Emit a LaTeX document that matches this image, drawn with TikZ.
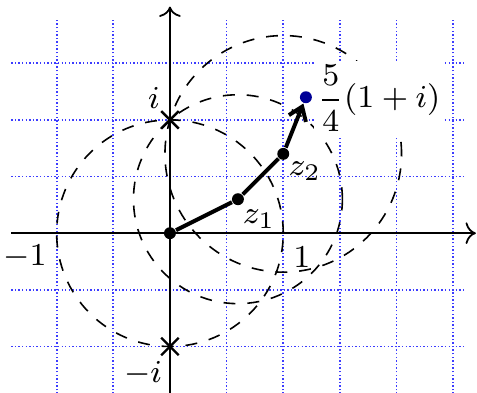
\documentclass[tikz,border=0pt]{standalone}
\usetikzlibrary{shapes.misc,arrows.meta}
\definecolor{dotblue}{RGB}{0,0,150}
\definecolor{gridblue}{RGB}{60,60,255}
\begin{document}
\begin{tikzpicture}[x=1cm,y=1cm, font=\fontsize{8.2}{9.8}\selectfont,
  gridline/.style={gridblue, dash pattern=on 0.35pt off 0.55pt, line width=0.45pt},
  axisline/.style={->, line width=0.45pt},
  orbit/.style={dashed, line width=0.4pt},
  vec/.style={line width=1pt},
  pt/.style={circle, fill=black, inner sep=0pt, minimum size=3pt},
  xmark/.style={cross out, draw, inner sep=0pt, minimum size=3.8pt, line width=0.6pt}]
\useasboundingbox (-1.5,-1.41) rectangle (2.71,2.058);
\draw[gridline, step=0.5] (-1.4,-1.45) grid (2.6,1.88);
% dashed circles through i
\draw[orbit] (0,0) circle (1);
\draw[orbit] (0.6,0.3) circle ({sqrt(0.85)});
\draw[orbit] (1,0.7) circle ({sqrt(1.09)});
% axes
\coordinate (xs) at (-1.4,0);
\coordinate (xe) at (2.7,0);
\coordinate (ys) at (0,-1.45);
\coordinate (ye) at (0,2.0);
\draw[axisline] (xs) -- (xe);
\draw[axisline] (ys) -- (ye);
% marks
\node[xmark] (pi) at (0,1) {};
\node[xmark] (mi) at (0,-1) {};
% labels
\node (li) at (-0.141,1.19) {$i$};
\node (lmi) at (-0.238,-1.236) {$-i$};
\node (lm1) at (-1.28,-0.212) {$-1$};
\node (l1) at (1.165,-0.212) {$1$};
\node (lz1) at (0.786,0.124) {$z_1$};
\node (lz2) at (1.19,0.547) {$z_2$};
\node[fill=white, inner sep=1pt, anchor=west] (lab) at (1.262,1.19) {$\displaystyle\frac{5}{4}(1+i)$};
% points and path
\node[pt] (z0) at (0,0) {};
\node[pt] (z1) at (0.6,0.3) {};
\node[pt] (z2) at (1.0,0.7) {};
\node[pt, fill=dotblue] (z3) at (1.2,1.2) {};
\draw[vec] (z0) -- (z1) -- (z2);
\draw[vec, -{Straight Barb[length=3.2pt, width=4.6pt]}] (z2) -- (z3);
\end{tikzpicture}
\end{document}
